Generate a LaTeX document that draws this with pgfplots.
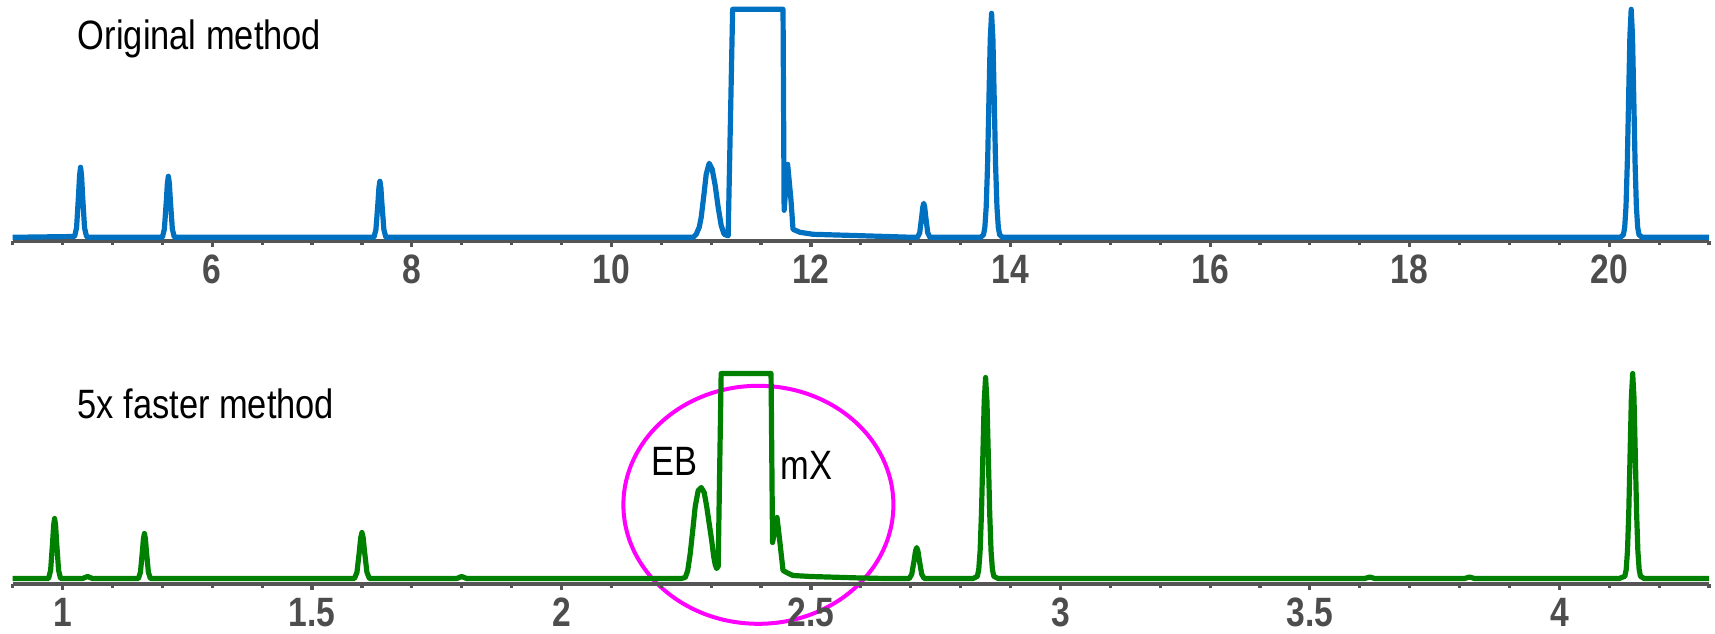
\documentclass[border=0pt]{standalone}
\usepackage{fontspec}
\usepackage{pgfplots}
\pgfplotsset{compat=1.18}
\newfontfamily\annfont{Liberation Sans}[FakeStretch=0.84]
\newfontfamily\tickfont{Liberation Sans}[FakeStretch=0.82]
\definecolor{origblue}{RGB}{0,112,192}
\definecolor{fastgreen}{RGB}{0,128,0}
\definecolor{ringmagenta}{RGB}{255,0,255}
\definecolor{axisgray}{RGB}{85,85,85}
\definecolor{labelgray}{RGB}{77,77,77}

\pgfplotsset{
  chrom/.style={
    scale only axis,
    width=424.08pt,
    axis x line=bottom,
    hide y axis,
    x axis line style={-, line width=1pt, draw=axisgray},
    tick align=outside,
    major tick length=1.6pt,
    minor tick length=1.1pt,
    every tick/.style={line width=0.8pt, draw=axisgray},
    xticklabel style={font=\tickfont\bfseries\fontsize{10.25}{12}\selectfont, text=labelgray, yshift=1.6pt},
    clip=false,
    every axis plot/.append style={line width=1.3pt, line join=round},
  }
}

\begin{document}
\begin{tikzpicture}
\path[use as bounding box] (0,0) rectangle (428.75pt,158.25pt);

% original method, 4-21 min
\begin{axis}[chrom,
  at={(3.175pt,98pt)}, anchor=south west,
  height=60.25pt,
  xmin=4, xmax=21, ymin=-3.7, ymax=237.3,
  xtick={6,8,10,12,14,16,18,20},
  xticklabels={6,8,10,12,14,16,18,20},
  minor xtick={4,4.5,5,5.5,6.5,7,7.5,8.5,9,9.5,10.5,11,11.5,12.5,13,13.5,14.5,15,15.5,16.5,17,17.5,18.5,19,19.5,20.5,21},
]
\addplot[origblue] coordinates {
  (4.00,0) (4.62,0.8) (4.64,9.5) (4.66,42.5) (4.67,61.7) (4.68,70) (4.69,61.7) (4.70,42.5) (4.72,9.5) (4.74,0.8) (4.76,0)
  (5.50,0) (5.52,8.2) (5.54,37) (5.55,53.8) (5.56,61) (5.57,53.8) (5.58,37) (5.60,8.2) (5.62,0)
  (7.62,0) (7.64,7.6) (7.66,34) (7.67,49.4) (7.68,56) (7.69,49.4) (7.70,34) (7.72,7.6) (7.74,0)
  (10.82,0) (10.85,3) (10.88,10) (10.90,20) (10.93,45) (10.95,63) (10.98,74) (11.01,68) (11.04,52)
  (11.07,30) (11.10,12) (11.13,3) (11.17,1.5)
  (11.215,228) (11.72,228) (11.731,27) (11.766,73) (11.80,37) (11.82,8) (11.89,5) (12.02,3) (12.36,2) (12.69,1) (13.02,0)
  (13.06,0) (13.07,0.4) (13.09,4.6) (13.11,20.6) (13.12,30) (13.13,34) (13.14,30) (13.15,20.6) (13.17,4.6) (13.19,0.4) (13.20,0)
  (13.70,0) (13.729,2.5) (13.7425,9.9) (13.756,30.2) (13.77,72.8) (13.783,136) (13.7965,197.6) (13.81,224)
  (13.8235,197.6) (13.837,136) (13.85,72.8) (13.864,30.2) (13.8775,9.9) (13.891,2.5) (13.92,0)
  (20.11,0) (20.142,2.5) (20.155,10) (20.168,30.8) (20.181,74.1) (20.194,138.4) (20.207,201) (20.22,228)
  (20.233,201) (20.246,138.4) (20.259,74.1) (20.272,30.8) (20.285,10) (20.298,2.5) (20.33,0) (21,0)
};
\end{axis}

\draw[ringmagenta, line width=1pt] (189.6pt,32.05pt) ellipse [x radius=33.75pt, y radius=29.75pt];

% 5x faster method, 0.9-4.3 min
\begin{axis}[chrom,
  at={(3.175pt,12.25pt)}, anchor=south west,
  height=61pt,
  xmin=0.9, xmax=4.3, ymin=-5.5, ymax=238.5,
  xtick={1,1.5,2,2.5,3,3.5,4},
  xticklabels={1,1.5,2,2.5,3,3.5,4},
  minor xtick={0.9,1.1,1.2,1.3,1.4,1.6,1.7,1.8,1.9,2.1,2.2,2.3,2.4,2.6,2.7,2.8,2.9,3.1,3.2,3.3,3.4,3.6,3.7,3.8,3.9,4.1,4.2,4.3},
]
\addplot[fastgreen] coordinates {
  (0.90,0) (0.972,0) (0.976,8.1) (0.980,36.4) (0.982,52.9) (0.984,60) (0.986,52.9) (0.988,36.4) (0.992,8.1) (0.996,0)
  (1.04,0) (1.05,2) (1.06,0)
  (1.152,0) (1.156,6.1) (1.160,27.3) (1.162,39.7) (1.164,45) (1.166,39.7) (1.168,27.3) (1.172,6.1) (1.176,0)
  (1.585,0) (1.590,6.2) (1.595,27.9) (1.5975,40.6) (1.600,46) (1.6025,40.6) (1.605,27.9) (1.610,6.2) (1.615,0)
  (1.79,0) (1.80,2) (1.81,0)
  (2.24,0) (2.248,1) (2.253,8) (2.258,25) (2.263,48) (2.268,72) (2.274,88) (2.280,91) (2.286,86) (2.291,72)
  (2.296,55) (2.301,38) (2.305,22) (2.308,14) (2.311,10) (2.314,12)
  (2.32,205) (2.42,205) (2.423,36) (2.432,61) (2.438,35) (2.444,8) (2.455,5) (2.464,3) (2.50,2) (2.60,0.5) (2.65,0)
  (2.697,0) (2.702,4.2) (2.707,18.8) (2.7095,27.3) (2.712,31) (2.7145,27.3) (2.717,18.8) (2.722,4.2) (2.727,0)
  (2.825,0) (2.8335,2.2) (2.83625,8.8) (2.839,27.1) (2.84175,65.3) (2.8445,122) (2.84725,177.3) (2.85,201)
  (2.85275,177.3) (2.8555,122) (2.85825,65.3) (2.861,27.1) (2.86375,8.8) (2.8665,2.2) (2.875,0)
  (3.61,0) (3.62,1.5) (3.63,0) (3.81,0) (3.82,1.5) (3.83,0)
  (4.12,0) (4.1314,2.3) (4.134,9) (4.1366,27.7) (4.1392,66.6) (4.1418,124.4) (4.1444,180.8) (4.147,205)
  (4.1496,180.8) (4.1522,124.4) (4.1548,66.6) (4.1574,27.7) (4.16,9) (4.1626,2.3) (4.17,0) (4.30,0)
};
\end{axis}

\begin{scope}[every node/.style={inner sep=0pt, anchor=base west, font=\annfont\fontsize{10.25}{12}\selectfont}]
\node at (19.3pt,145.75pt) {Original method};
\node at (19.2pt,53.5pt) {5x faster method};
\node at (162.7pt,39.3pt) {EB};
\node at (195pt,38.25pt) {mX};
\end{scope}
\end{tikzpicture}
\end{document}
